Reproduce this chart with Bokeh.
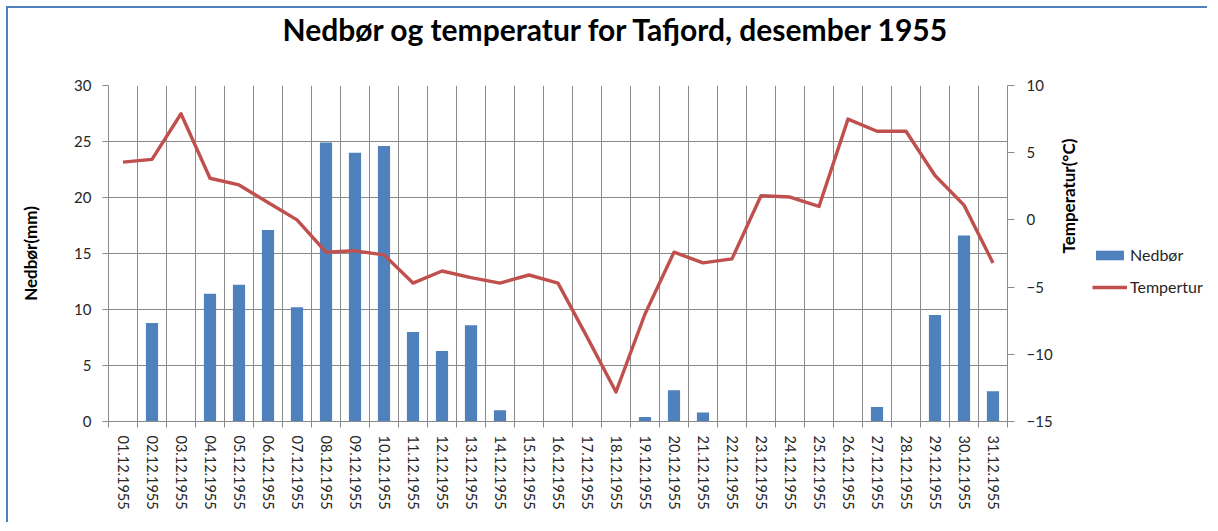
import math
import numpy as np
from bokeh.plotting import figure
from bokeh.layouts import row
from bokeh.models import (Range1d, LinearAxis, FixedTicker, Legend, LegendItem,
                          ColumnDataSource, Grid, Title)
from bokeh.embed import file_html
from bokeh.resources import INLINE

dates = [f"{d:02d}.12.1955" for d in range(1, 32)]
nedbor = [0, 8.8, 0, 11.4, 12.2, 17.1, 10.2, 24.9, 24.0, 24.6, 8.0, 6.3, 8.6, 1.0,
          0, 0, 0, 0, 0.4, 2.8, 0.8, 0, 0, 0, 0, 0, 1.3, 0, 9.5, 16.6, 2.7]
temperatur = [4.3, 4.5, 7.9, 3.1, 2.6, 1.3, 0.0, -2.4, -2.3, -2.6, -4.7, -3.8, -4.3,
              -4.7, -4.1, -4.7, -8.7, -12.8, -7.0, -2.4, -3.2, -2.9, 1.8, 1.7, 1.0,
              7.5, 6.6, 6.6, 3.3, 1.1, -3.2]
left_ticks = [0, 5, 10, 15, 20, 25, 30]
right_ticks = [-15, -10, -5, 0, 5, 10]
title_text = "Nedbør og temperatur for Tafjord, desember 1955"
series_names = ["Nedbør", "Tempertur"]

FONT = "Lato"
GRID = "#8a8a8a"
TXT = "#262626"
BLUE = "#4F81BD"
RED = "#C0504D"

n = len(dates)
xc = np.arange(n) + 0.5
src = ColumnDataSource(dict(x=xc, nedbor=nedbor, temp=temperatur, date=dates))

p = figure(frame_width=899, frame_height=336, output_backend="svg", toolbar_location=None,
           x_range=Range1d(0, n), y_range=Range1d(left_ticks[0], left_ticks[-1]),
           min_border_left=100, min_border_right=80, min_border_top=76,
           min_border_bottom=103, x_axis_type=None, y_axis_type=None,
           title_location=None)
p.outline_line_color = None
p.background_fill_color = "white"
p.border_fill_color = "white"

# spacer title (adjacent to frame) then the real title above it
spacer = Title(text=" ", text_font_size="1px", standoff=36)
main_title = Title(text=title_text, text_font=FONT, text_font_size="30px",
                   text_font_style="bold", text_color="black", align="left",
                   offset=174, standoff=0, vertical_align="bottom")
p.add_layout(spacer, "above")
p.add_layout(main_title, "above")

p.extra_y_ranges = {"temp": Range1d(right_ticks[0], right_ticks[-1])}

# x axis: labels at centers, ticks at boundaries (minor)
xax = LinearAxis(ticker=FixedTicker(ticks=list(xc), minor_ticks=list(range(n + 1))))
xax.major_label_overrides = {float(x): d for x, d in zip(xc, dates)}
xax.major_label_orientation = "vertical"
xax.major_tick_line_color = None
xax.minor_tick_in = 0
xax.minor_tick_out = 6
xax.minor_tick_line_color = GRID
xax.axis_line_color = GRID
xax.major_label_text_font = FONT
xax.major_label_text_font_size = "14.5px"
xax.major_label_text_color = TXT
xax.major_label_standoff = 8
p.add_layout(xax, "below")

yax = LinearAxis(ticker=FixedTicker(ticks=left_ticks, minor_ticks=[]))
yax.axis_label = "Nedbør(mm)"
yax.axis_label_text_font = FONT
yax.axis_label_text_font_size = "17px"
yax.axis_label_text_font_style = "bold"
yax.axis_label_text_color = "black"
yax.axis_label_standoff = 30
yax.major_tick_in = 0
yax.major_tick_out = 6
yax.major_tick_line_color = GRID
yax.axis_line_color = GRID
yax.major_label_text_font = FONT
yax.major_label_text_font_size = "15px"
yax.major_label_text_color = TXT
yax.major_label_standoff = 11
p.add_layout(yax, "left")

rax = LinearAxis(y_range_name="temp", ticker=FixedTicker(ticks=right_ticks, minor_ticks=[]))
rax.axis_label = "Temperatur(°C)"
rax.axis_label_orientation = math.pi / 2
rax.axis_label_text_font = FONT
rax.axis_label_text_font_size = "17px"
rax.axis_label_text_font_style = "bold"
rax.axis_label_text_color = "black"
rax.axis_label_standoff = 13
rax.major_tick_in = 0
rax.major_tick_out = 7
rax.major_tick_line_color = GRID
rax.axis_line_color = GRID
rax.major_label_text_font = FONT
rax.major_label_text_font_size = "15px"
rax.major_label_text_color = TXT
rax.major_label_standoff = 12
p.add_layout(rax, "right")

xgrid = Grid(dimension=0, ticker=xax.ticker, grid_line_color=None,
             minor_grid_line_color=GRID, minor_grid_line_width=1)
ygrid = Grid(dimension=1, ticker=yax.ticker, grid_line_color=GRID, grid_line_width=1)
p.add_layout(xgrid, "center")
p.add_layout(ygrid, "center")

p.vbar(x="x", top="nedbor", bottom=0, width=0.42, source=src,
       fill_color=BLUE, line_color=None)
p.line(x="x", y="temp", source=src, y_range_name="temp",
       line_color=RED, line_width=3.4, line_join="round")

# legend panel (separate figure to the right of the chart); its proxy glyphs
# sit outside its visible range so only the legend swatches show
lg = figure(width=117, height=515, output_backend="svg", toolbar_location=None,
            x_range=Range1d(0, 1), y_range=Range1d(0, 1), min_border=0,
            x_axis_type=None, y_axis_type=None, title_location=None)
lg.outline_line_color = None
lg.background_fill_color = "white"
lg.border_fill_color = "white"
r_bar = lg.vbar(x=[-5], top=[-5], bottom=-6, width=0.5, fill_color=BLUE, line_color=None)
r_line = lg.line(x=[-6, -5], y=[-6, -5], line_color=RED, line_width=3.4)
legend = Legend(items=[LegendItem(label=series_names[0], renderers=[r_bar]),
                       LegendItem(label=series_names[1], renderers=[r_line])],
                location=(0, 124))
legend.border_line_color = None
legend.background_fill_alpha = 0
legend.padding = 0
legend.margin = 0
legend.glyph_width = 35
legend.glyph_height = 12
legend.label_height = 12
legend.spacing = 13
legend.label_standoff = 3
legend.label_text_font = FONT
legend.label_text_font_size = "16px"
legend.label_text_color = TXT
legend.label_text_baseline = "middle"
lg.add_layout(legend, "center")

layout = row(p, lg, spacing=0)
layout.styles = {"margin": "8px 0px 0px 8px", "box-shadow": "-2px -2px 0px 0px #4F81BD"}

open("out.html", "w").write(file_html(layout, INLINE))
